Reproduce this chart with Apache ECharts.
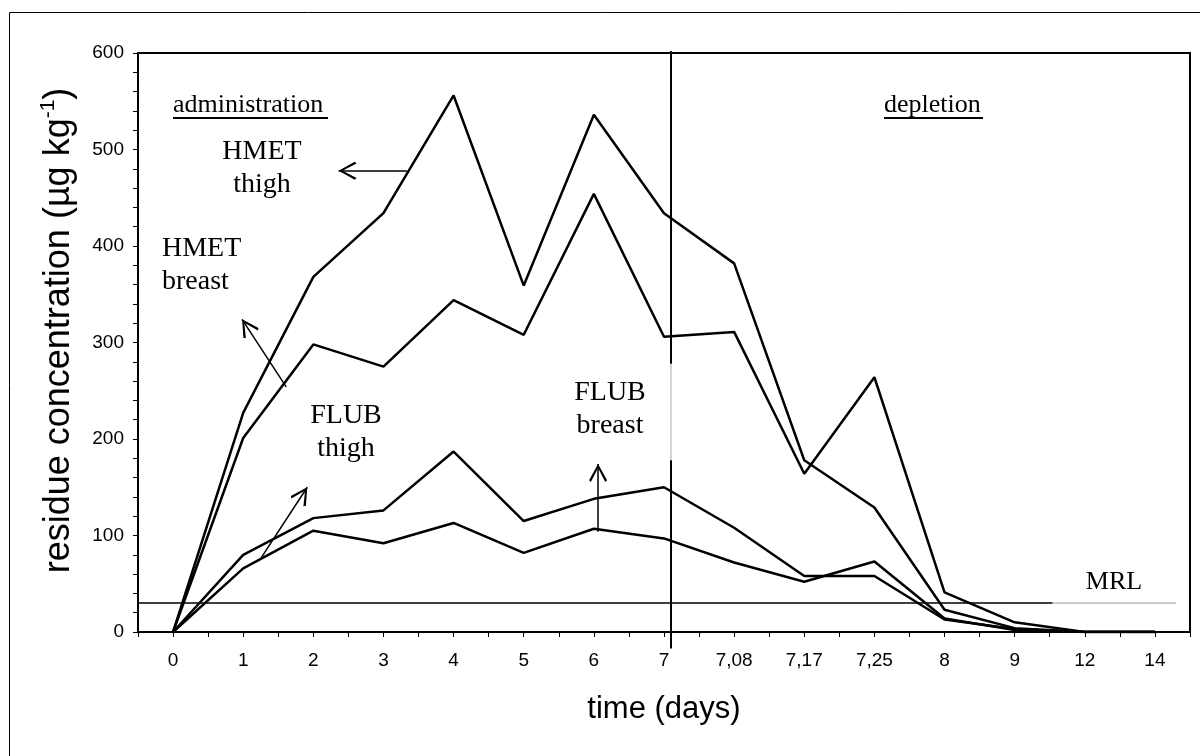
<!DOCTYPE html>
<html>
<head>
  <meta charset="utf-8">
  <title>Residue depletion</title>
  <script src="https://cdn.jsdelivr.net/npm/echarts@6/dist/echarts.min.js"></script>
  <style>
    body { margin: 0; background: #fff; }
    #graph { width: 1200px; height: 756px; }
  </style>
</head>
<body>
  <div id="graph"></div>

  <script>
    // x categories (time in days), plotted at index positions 0..14
    var days = ['0', '1', '2', '3', '4', '5', '6', '7', '7,08', '7,17', '7,25', '8', '9', '12', '14'];

    // residue concentration (µg/kg)
    var hmetThigh  = [0, 227, 368, 434, 556, 359, 536, 434, 382, 178, 129, 23, 4, 0, 0];
    var hmetBreast = [0, 201, 298, 275, 344, 308, 454, 306, 311, 164, 264, 41, 10, 0, 0];
    var flubBreast = [0, 80, 118, 126, 187, 115, 138, 150, 108, 58, 58, 13, 3, 0, 0];
    var flubThigh  = [0, 66, 105, 92, 113, 82, 107, 97, 72, 52, 73, 14, 2, 0, 0];

    // reference lines (data units)
    var mrlValue = 30;
    var mrlEnd = [12.54, 14.3];          // black part ends, grey part ends
    var dividerX = 7.1;                   // administration | depletion
    var dividerY = [602, 278, 178, -17];  // black, grey gap, black

    // arrows: [tailX, tailY, headX, headY]
    var arrows = [
      [3.335, 478, 2.36, 478],    // HMET thigh
      [1.613, 254, 0.984, 324],   // HMET breast
      [1.258, 77, 1.913, 150],    // FLUB thigh
      [6.06, 104, 6.06, 174]      // FLUB breast
    ];

    function pts(arr) {
      return arr.map(function (v, i) { return [i, v]; });
    }

    var sans = 'Liberation Sans, Arial, sans-serif';
    var serif = 'Liberation Serif, Times New Roman, serif';
    var chevron = 'path://M5,-10L5,-10M5,0L10,9L9,10L5,2.2L1,10L0,9Z';

    var myChart = echarts.init(document.getElementById('graph'));

    var lineStyle = { color: '#000', width: 2.5 };

    function dataSeries(name, arr) {
      return {
        name: name,
        type: 'line',
        data: pts(arr),
        symbol: 'none',
        lineStyle: lineStyle,
        z: 5
      };
    }

    var option = {
      animation: false,
      backgroundColor: '#fff',
      grid: {
        left: 138, right: 10, top: 53, bottom: 124,
        show: true, borderColor: '#000', borderWidth: 2
      },
      xAxis: {
        type: 'value',
        min: -0.5, max: 14.5, interval: 0.5,
        name: 'time (days)',
        nameLocation: 'middle',
        nameGap: 62,
        nameTextStyle: { fontFamily: sans, fontSize: 31, color: '#000' },
        axisLine: { onZero: false, lineStyle: { color: '#000', width: 2 } },
        axisTick: { length: 5, lineStyle: { color: '#000', width: 1 } },
        axisLabel: {
          margin: 19,
          fontFamily: sans, fontSize: 19, color: '#000',
          formatter: function (v) {
            return Number.isInteger(v) && days[v] !== undefined ? days[v] : '';
          }
        },
        splitLine: { show: false }
      },
      yAxis: {
        type: 'value',
        min: 0, max: 600, interval: 100,
        name: 'residue concentration (µg kg{sup|-1})',
        nameLocation: 'middle',
        nameGap: 58,
        nameTextStyle: {
          fontFamily: sans, fontSize: 36, color: '#000', lineHeight: 42,
          padding: [0, 0, 0, 24],
          rich: { sup: { fontFamily: sans, fontSize: 21, color: '#000', verticalAlign: 'top', lineHeight: 42 } }
        },
        axisLine: { onZero: false, lineStyle: { color: '#000', width: 2 } },
        axisTick: { length: 5, lineStyle: { color: '#000', width: 1 } },
        minorTick: { show: true, splitNumber: 5, length: 5, lineStyle: { color: '#000', width: 1 } },
        axisLabel: { margin: 14, fontFamily: sans, fontSize: 19, color: '#000' },
        splitLine: { show: false }
      },
      graphic: [
        { type: 'rect', shape: { x: 9.5, y: 12.5, width: 1300, height: 900 },
          style: { fill: 'none', stroke: '#000', lineWidth: 1 }, z: 0 },
        { type: 'text', left: 173, top: 92,
          style: { text: 'administration', font: '26px ' + serif, fill: '#000' } },
        { type: 'line', shape: { x1: 173, y1: 118, x2: 328, y2: 118 },
          style: { stroke: '#000', lineWidth: 2 } },
        { type: 'text', left: 884, top: 92,
          style: { text: 'depletion', font: '26px ' + serif, fill: '#000' } },
        { type: 'line', shape: { x1: 884, y1: 118, x2: 983, y2: 118 },
          style: { stroke: '#000', lineWidth: 2 } },
        { type: 'text', x: 262, y: 135,
          style: { text: 'HMET\nthigh', font: '28px ' + serif, fill: '#000',
                   align: 'center', verticalAlign: 'top', lineHeight: 33 } },
        { type: 'text', x: 162, y: 232,
          style: { text: 'HMET\nbreast', font: '28px ' + serif, fill: '#000',
                   align: 'left', verticalAlign: 'top', lineHeight: 33 } },
        { type: 'text', x: 346, y: 399,
          style: { text: 'FLUB\nthigh', font: '28px ' + serif, fill: '#000',
                   align: 'center', verticalAlign: 'top', lineHeight: 33 } },
        { type: 'text', x: 610, y: 376,
          style: { text: 'FLUB\nbreast', font: '28px ' + serif, fill: '#000',
                   align: 'center', verticalAlign: 'top', lineHeight: 33 } },
        { type: 'text', x: 1114, y: 569,
          style: { text: 'MRL', font: '26px ' + serif, fill: '#000',
                   align: 'center', verticalAlign: 'top' } }
      ],
      series: [
        dataSeries('HMET thigh', hmetThigh),
        dataSeries('HMET breast', hmetBreast),
        dataSeries('FLUB breast', flubBreast),
        Object.assign(dataSeries('FLUB thigh', flubThigh), {
          markLine: {
            silent: true,
            symbol: ['none', chevron],
            symbolSize: [18, 36],
            label: { show: false },
            lineStyle: { color: '#000', width: 1.5, type: 'solid' },
            data: arrows.map(function (a) {
              return [{ coord: [a[0], a[1]] }, { coord: [a[2], a[3]] }];
            })
          }
        }),
        {
          name: 'MRL', type: 'line', symbol: 'none', z: 4,
          data: [[-0.5, mrlValue], [mrlEnd[0], mrlValue]],
          lineStyle: { color: '#000', width: 1.5 }
        },
        {
          name: 'MRL ext', type: 'line', symbol: 'none', z: 4,
          data: [[mrlEnd[0], mrlValue], [mrlEnd[1], mrlValue]],
          lineStyle: { color: '#999', width: 1 }
        },
        {
          name: 'divider', type: 'line', symbol: 'none', z: 4, clip: false,
          data: [[dividerX, dividerY[0]], [dividerX, dividerY[1]], [dividerX, '-'],
                 [dividerX, dividerY[2]], [dividerX, dividerY[3]]],
          lineStyle: { color: '#000', width: 2 }
        },
        {
          name: 'divider gap', type: 'line', symbol: 'none', z: 4,
          data: [[dividerX, dividerY[1]], [dividerX, dividerY[2]]],
          lineStyle: { color: '#aaa', width: 1 }
        }
      ]
    };

    myChart.setOption(option);
  </script>
</body>
</html>
